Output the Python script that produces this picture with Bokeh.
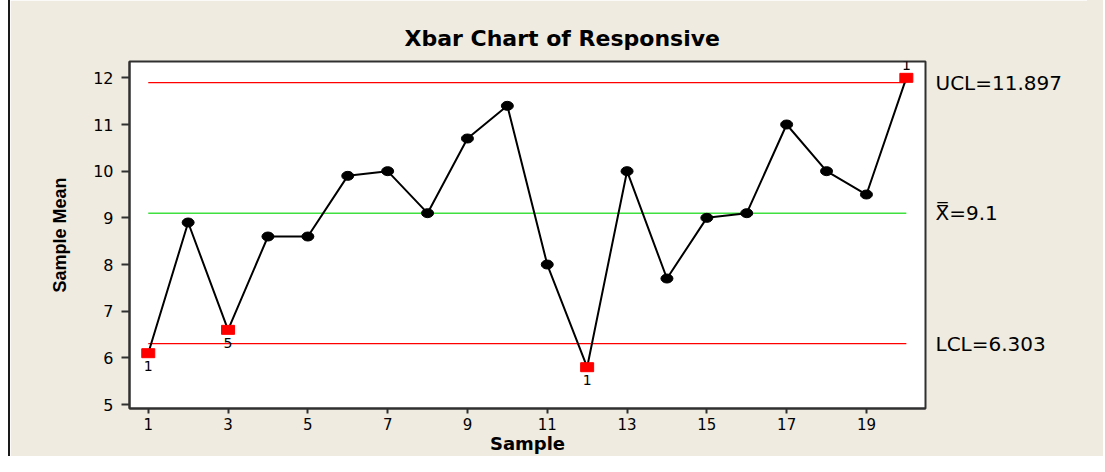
from bokeh.plotting import figure
from bokeh.models import LinearAxis, FixedTicker, Range1d, ColumnDataSource
from bokeh.core.properties import value
from bokeh.embed import file_html
from bokeh.resources import INLINE

# ---- data ----
samples = list(range(1, 21))
means = [6.1, 8.9, 6.6, 8.6, 8.6, 9.9, 10.0, 9.1, 10.7, 11.4,
         8.0, 5.8, 10.0, 7.7, 9.0, 9.1, 11.0, 10.0, 9.5, 12.0]
# failed test number per sample ("" = in control)
tests = ["1", "", "5", "", "", "", "", "", "", "",
         "", "1", "", "", "", "", "", "", "", "1"]
ucl = 11.897
center = 9.1
lcl = 6.303
x_ticks = [1, 3, 5, 7, 9, 11, 13, 15, 17, 19]
y_ticks = [5, 6, 7, 8, 9, 10, 11, 12]
limit_labels = {ucl: "UCL=11.897", center: "X\u033F=9.1", lcl: "LCL=6.303"}

BG = "#EFEBE1"
FONT = "DejaVu Sans"

p = figure(width=1079, height=456, output_backend="svg", toolbar_location=None,
           x_range=Range1d(0.53, 20.48), y_range=Range1d(4.915, 12.35),
           min_border_left=119, min_border_right=164, min_border_top=61,
           min_border_bottom=48)
p.styles = {"border-left": "2px solid #1a1a1a", "margin-left": "8px",
            "box-shadow": "16px 0 0 0 " + BG}
p.background_fill_color = "white"
p.border_fill_color = BG
p.outline_line_color = "#303030"
p.outline_line_width = 2
p.xgrid.visible = False
p.ygrid.visible = False

# title
p.title.text = "Xbar Chart of Responsive"
p.title.text_font = FONT
p.title.text_font_size = "22px"
p.title.text_font_style = "bold"
p.title.text_color = "black"
p.title.align = "left"
p.title.offset = 275
p.title.standoff = 21

# axes
for ax in (p.xaxis[0], p.yaxis[0]):
    ax.axis_line_color = "#303030"
    ax.axis_line_width = 2
    ax.major_tick_line_color = "#303030"
    ax.major_tick_line_width = 2
    ax.major_tick_in = 0
    ax.minor_tick_line_color = None
    ax.major_label_text_font = FONT
    ax.major_label_text_font_size = "16px"
    ax.major_label_text_color = "black"
    ax.axis_label_text_color = "black"
    ax.axis_label_text_font_style = "bold"

p.xaxis.ticker = FixedTicker(ticks=x_ticks)
p.xaxis.major_tick_out = 5
p.xaxis.major_label_standoff = 4
p.xaxis.major_label_text_font_size = "15px"
p.xaxis.axis_label = "Sample"
p.xaxis.axis_label_text_font = FONT
p.xaxis.axis_label_text_font_size = "18px"
p.xaxis.axis_label_standoff = 0

p.yaxis.ticker = FixedTicker(ticks=y_ticks)
p.yaxis.major_tick_out = 8
p.yaxis.major_label_standoff = 8
p.yaxis.axis_label = "Sample Mean"
p.yaxis.axis_label_text_font = "Liberation Sans"
p.yaxis.axis_label_text_font_size = "18px"
p.yaxis.axis_label_standoff = 20

# right axis carrying the control-limit labels
rax = LinearAxis(ticker=FixedTicker(ticks=[lcl, center, ucl]),
                 major_label_overrides=limit_labels)
rax.axis_line_color = None
rax.major_tick_line_color = None
rax.minor_tick_line_color = None
rax.major_label_standoff = 4
rax.major_label_text_font = FONT
rax.major_label_text_font_size = "20px"
rax.major_label_text_color = "black"
p.add_layout(rax, "right")

# control lines
xs = [samples[0], samples[-1]]
p.line(xs, [ucl, ucl], line_color="#FF0000", line_width=1.2)
p.line(xs, [lcl, lcl], line_color="#FF0000", line_width=1.2)
p.line(xs, [center, center], line_color="#3FE03F", line_width=1.5)

# data line
p.line(samples, means, line_color="black", line_width=2)

ok_x = [s for s, t in zip(samples, tests) if t == ""]
ok_y = [m for m, t in zip(means, tests) if t == ""]
bad_x = [s for s, t in zip(samples, tests) if t != ""]
bad_y = [m for m, t in zip(means, tests) if t != ""]
bad_t = [t for t in tests if t != ""]

p.ellipse(ok_x, ok_y, width=12, height=9, width_units="screen", height_units="screen",
          fill_color="black", line_color="black")
p.rect(bad_x, bad_y, width=13, height=9, width_units="screen", height_units="screen",
       fill_color="#FF0000", line_color="#FF0000")

# test labels: below the point, above it when at the top of the chart
below = ColumnDataSource(dict(x=[x for x, y in zip(bad_x, bad_y) if y < ucl],
                              y=[y for y in bad_y if y < ucl],
                              t=[t for t, y in zip(bad_t, bad_y) if y < ucl]))
above = ColumnDataSource(dict(x=[x for x, y in zip(bad_x, bad_y) if y >= ucl],
                              y=[y for y in bad_y if y >= ucl],
                              t=[t for t, y in zip(bad_t, bad_y) if y >= ucl]))
p.text("x", "y", text="t", source=below, y_offset=13, text_align="center",
       text_baseline="middle", text_font=value(FONT), text_font_size="14px",
       text_color="black")
p.text("x", "y", text="t", source=above, y_offset=-13, text_align="center",
       text_baseline="middle", text_font=value(FONT), text_font_size="14px",
       text_color="black")

open("out.html", "w").write(file_html(p, INLINE))
